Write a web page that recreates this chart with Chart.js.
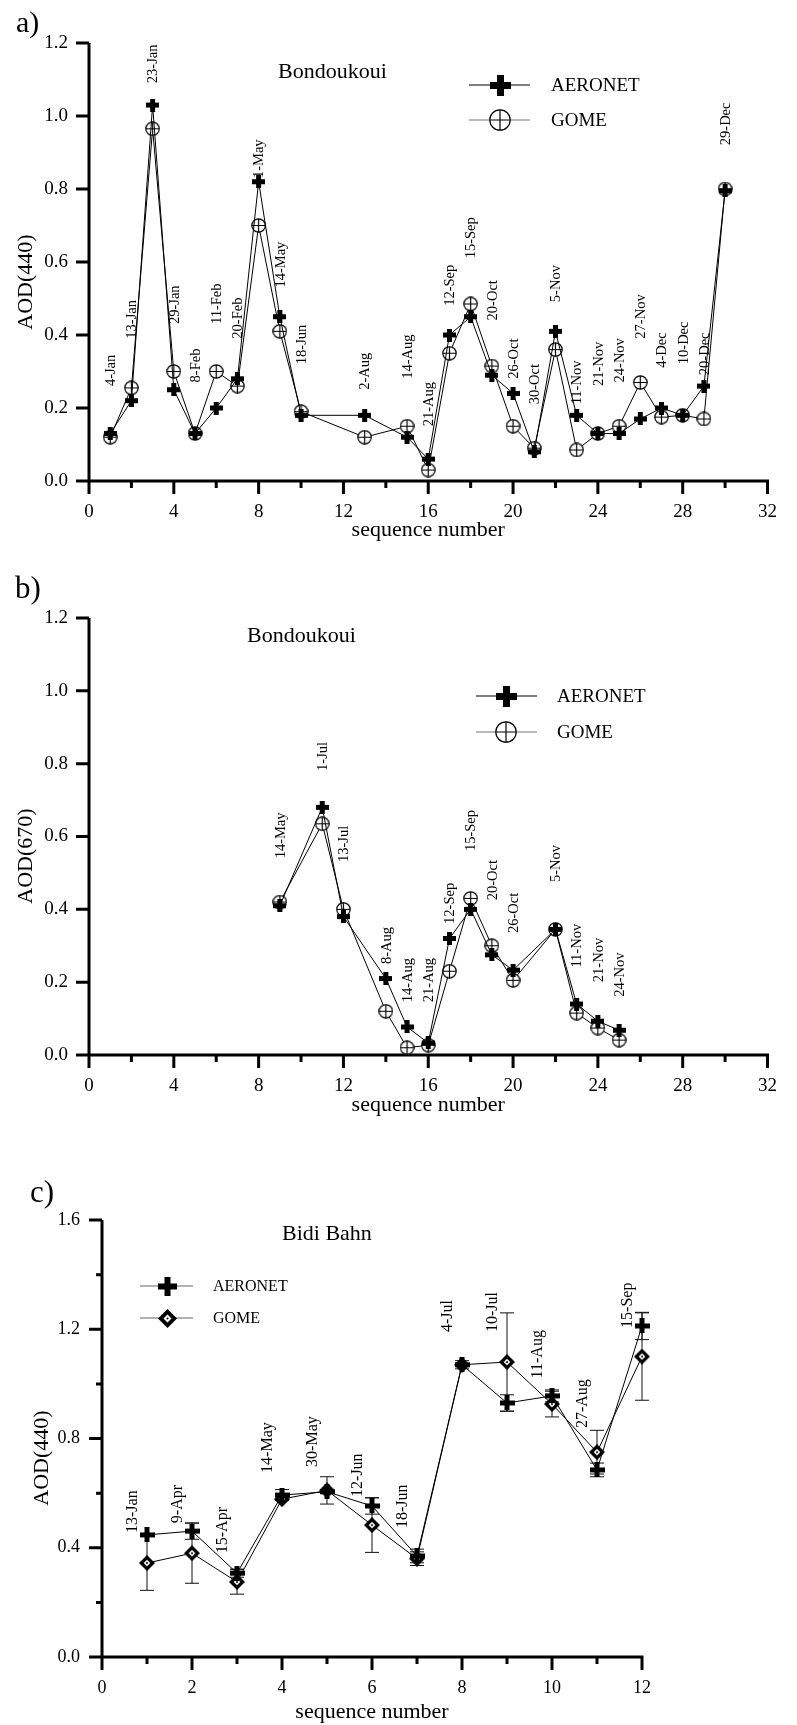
<!DOCTYPE html>
<html>
<head>
  <meta charset="utf-8" />
  <title>AOD AERONET vs GOME</title>
  <script src="https://cdn.jsdelivr.net/npm/chart.js@4"></script>
  <style>
    body {
      margin: 0;
      background: #ffffff;
      width: 797px;
      height: 1725px;
      position: relative;
      overflow: hidden;
    }
    canvas { position: absolute; left: 0; }
    #chart-a { top: 0; }
    #chart-b { top: 560px; }
    #chart-c { top: 1140px; }
  </style>
</head>
<body>
  <canvas id="chart-a" width="797" height="560"></canvas>
  <canvas id="chart-b" width="797" height="580"></canvas>
  <canvas id="chart-c" width="797" height="585"></canvas>
  <script>
    // a) Bondoukoui, AOD(440)
    const seqA = [1, 2, 3, 4, 5, 6, 7, 8, 9, 10, 13, 15, 16, 17, 18, 19, 20, 21, 22, 23, 24, 25, 26, 27, 28, 29, 30];
    const datesA = ['4-Jan', '13-Jan', '23-Jan', '29-Jan', '8-Feb', '11-Feb', '20-Feb', '1-May', '14-May', '18-Jun',
      '2-Aug', '14-Aug', '21-Aug', '12-Sep', '15-Sep', '20-Oct', '26-Oct', '30-Oct', '5-Nov', '11-Nov',
      '21-Nov', '24-Nov', '27-Nov', '4-Dec', '10-Dec', '20-Dec', '29-Dec'];
    const aeronetA = [0.13, 0.22, 1.03, 0.25, 0.13, 0.20, 0.28, 0.82, 0.45, 0.18, 0.18, 0.12, 0.06, 0.40, 0.45,
      0.29, 0.24, 0.08, 0.41, 0.18, 0.13, 0.13, 0.17, 0.20, 0.18, 0.26, 0.795];
    const gomeA = [0.12, 0.255, 0.965, 0.30, 0.13, 0.30, 0.26, 0.70, 0.41, 0.19, 0.12, 0.15, 0.03, 0.35, 0.485,
      0.315, 0.15, 0.09, 0.36, 0.085, 0.13, 0.15, 0.27, 0.175, 0.18, 0.17, 0.80];
    // AOD level where each date label starts
    const labelAtA = [0.26, 0.39, 1.09, 0.43, 0.27, 0.43, 0.39, 0.83, 0.53, 0.32, 0.25, 0.28, 0.15, 0.48, 0.61,
      0.44, 0.28, 0.21, 0.49, 0.21, 0.26, 0.27, 0.39, 0.31, 0.32, 0.29, 0.92];

    // b) Bondoukoui, AOD(670)
    const seqB = [9, 11, 12, 14, 15, 16, 17, 18, 19, 20, 22, 23, 24, 25];
    const datesB = ['14-May', '1-Jul', '13-Jul', '8-Aug', '14-Aug', '21-Aug', '12-Sep', '15-Sep', '20-Oct', '26-Oct',
      '5-Nov', '11-Nov', '21-Nov', '24-Nov'];
    const aeronetB = [0.41, 0.68, 0.38, 0.21, 0.077, 0.033, 0.32, 0.40, 0.275, 0.233, 0.345, 0.14, 0.093, 0.068];
    const gomeB = [0.42, 0.635, 0.40, 0.12, 0.02, 0.027, 0.23, 0.43, 0.30, 0.205, 0.345, 0.115, 0.074, 0.041];
    const labelAtB = [0.54, 0.78, 0.53, 0.25, 0.145, 0.145, 0.36, 0.56, 0.425, 0.335, 0.475, 0.24, 0.20, 0.16];

    // c) Bidi Bahn, AOD(440) with error bars
    const seqC = [1, 2, 3, 4, 5, 6, 7, 8, 9, 10, 11, 12];
    const datesC = ['13-Jan', '9-Apr', '15-Apr', '14-May', '30-May', '12-Jun', '18-Jun', '4-Jul', '10-Jul', '11-Aug',
      '27-Aug', '15-Sep'];
    const aeronetC = [0.447, 0.461, 0.307, 0.593, 0.605, 0.553, 0.37, 1.07, 0.93, 0.956, 0.685, 1.212];
    const gomeC = [0.344, 0.38, 0.275, 0.578, 0.61, 0.483, 0.36, 1.07, 1.08, 0.926, 0.75, 1.10];
    const aeronetErrC = [0, 0.03, 0.015, 0.02, 0, 0.03, 0.025, 0.015, 0.03, 0.022, 0.025, 0.05];
    const gomeErrC = [0.10, 0.11, 0.045, 0, 0.05, 0.10, 0.025, 0, 0.18, 0.047, 0.08, 0.16];
    const labelAtC = [0.454, 0.49, 0.38, 0.674, 0.696, 0.586, 0.472, 1.19, 1.19, 1.02, 0.838, 1.205];

    const serif = '"Liberation Serif", "Times New Roman", serif';
    Chart.defaults.font.family = serif;
    Chart.defaults.color = '#000';
    Chart.defaults.animation = false;

    // marker images used as point styles
    function crossMark(size, arm) {
      const c = document.createElement('canvas');
      c.width = c.height = size;
      const g = c.getContext('2d');
      const m = (size - arm) / 2;
      g.fillStyle = '#000';
      g.fillRect(m, 0, arm, size);
      g.fillRect(0, m, size, arm);
      return c;
    }
    function ringMark(size) {
      const c = document.createElement('canvas');
      c.width = c.height = size;
      const g = c.getContext('2d');
      const h = size / 2, r = h - 0.8;
      g.fillStyle = '#fff';
      g.beginPath(); g.arc(h, h, r, 0, Math.PI * 2); g.fill();
      g.strokeStyle = '#000'; g.lineWidth = 1.2;
      g.stroke();
      g.beginPath();
      g.moveTo(h, h - r); g.lineTo(h, h + r);
      g.moveTo(h - r, h); g.lineTo(h + r, h);
      g.stroke();
      return c;
    }
    function diamondMark(size) {
      const c = document.createElement('canvas');
      c.width = c.height = size;
      const g = c.getContext('2d');
      const h = size / 2, k = h * 0.42;
      g.fillStyle = '#000';
      g.beginPath(); g.moveTo(h, 0); g.lineTo(size, h); g.lineTo(h, size); g.lineTo(0, h); g.closePath(); g.fill();
      g.fillStyle = '#fff';
      g.beginPath(); g.moveTo(h, h - k); g.lineTo(h + k, h); g.lineTo(h, h + k); g.lineTo(h - k, h); g.closePath(); g.fill();
      g.fillStyle = '#000';
      g.beginPath(); g.arc(h, h, 1, 0, Math.PI * 2); g.fill();
      return c;
    }

    function pts(xs, ys) { return xs.map((x, i) => ({ x: x, y: ys[i] })); }

    function series(label, xs, ys, marker, extra) {
      return Object.assign({
        label: label,
        data: pts(xs, ys),
        borderColor: '#000',
        borderWidth: 1,
        pointStyle: marker,
        pointRadius: 7,
        pointHoverRadius: 7,
        fill: false,
        tension: 0,
        clip: false
      }, extra || {});
    }

    // axes, ticks, error bars, date labels, legend and titles
    const decor = {
      id: 'decor',
      beforeDatasetsDraw(chart, args, o) {
        const { ctx, chartArea: a, scales: { x, y } } = chart;
        ctx.save();
        ctx.strokeStyle = '#000';
        ctx.lineWidth = 3;
        ctx.beginPath();
        ctx.moveTo(a.left, a.top); ctx.lineTo(a.left, a.bottom);
        ctx.moveTo(a.left - 1.5, a.bottom); ctx.lineTo(a.right + 1.5, a.bottom);
        y.ticks.forEach((t, i) => {
          const py = y.getPixelForTick(i);
          ctx.moveTo(a.left, py); ctx.lineTo(a.left - (t.label === '' ? 6 : 13), py);
        });
        x.ticks.forEach((t, i) => {
          const px = x.getPixelForTick(i);
          ctx.moveTo(px, a.bottom); ctx.lineTo(px, a.bottom + (t.label === '' ? 7 : 13));
        });
        ctx.stroke();

        ctx.lineWidth = 1;
        ctx.strokeStyle = '#111';
        chart.data.datasets.forEach(ds => {
          if (!ds.errorBars) return;
          ds.data.forEach((p, i) => {
            const e = ds.errorBars[i];
            if (!e) return;
            const px = x.getPixelForValue(p.x);
            const top = y.getPixelForValue(p.y + e), bot = y.getPixelForValue(p.y - e);
            ctx.beginPath();
            ctx.moveTo(px, top); ctx.lineTo(px, bot);
            ctx.moveTo(px - 7, top); ctx.lineTo(px + 7, top);
            ctx.moveTo(px - 7, bot); ctx.lineTo(px + 7, bot);
            ctx.stroke();
          });
        });
        ctx.restore();
      },
      afterDatasetsDraw(chart, args, o) {
        const { ctx, scales: { x, y } } = chart;
        ctx.save();
        ctx.fillStyle = '#000';

        // rotated date labels
        const d = o.dates;
        ctx.font = d.size + 'px ' + serif;
        ctx.textAlign = 'left';
        ctx.textBaseline = 'middle';
        d.seq.forEach((s, i) => {
          ctx.save();
          ctx.translate(x.getPixelForValue(s) + d.dx, y.getPixelForValue(d.at[i]));
          ctx.rotate(-Math.PI / 2);
          ctx.fillText(d.text[i], 0, 0);
          ctx.restore();
        });

        // legend
        const L = o.legend;
        chart.data.datasets.forEach((ds, i) => {
          const ly = L.y[i];
          ctx.strokeStyle = L.lineColor[i];
          ctx.lineWidth = 1.2;
          ctx.beginPath(); ctx.moveTo(L.x0, ly); ctx.lineTo(L.x1, ly); ctx.stroke();
          const m = L.marker[i];
          ctx.drawImage(m, Math.round(L.xm - m.width / 2), Math.round(ly - m.height / 2));
          ctx.font = L.size + 'px ' + serif;
          ctx.textAlign = 'left';
          ctx.textBaseline = 'middle';
          ctx.fillText(ds.label, L.xt, ly + 1);
        });

        // site name and panel letter
        ctx.font = '22px ' + serif;
        ctx.textBaseline = 'middle';
        ctx.fillText(o.site.text, o.site.x, o.site.y);
        ctx.font = o.letter.size + 'px ' + serif;
        ctx.textBaseline = 'alphabetic';
        ctx.fillText(o.letter.text, o.letter.x, o.letter.y);

        // y axis title
        ctx.save();
        ctx.font = '22px ' + serif;
        ctx.textAlign = 'center';
        ctx.textBaseline = 'middle';
        ctx.translate(o.yTitle.x, o.yTitle.y);
        ctx.rotate(-Math.PI / 2);
        ctx.fillText(o.yTitle.text, 0, 0);
        ctx.restore();

        ctx.restore();
      }
    };

    function panel(id, p) {
      return new Chart(document.getElementById(id), {
        type: 'line',
        data: { datasets: p.datasets },
        options: {
          responsive: false,
          events: [],
          layout: { padding: p.padding },
          plugins: {
            legend: { display: false },
            tooltip: { enabled: false },
            decor: p.decor
          },
          scales: {
            x: {
              type: 'linear',
              min: 0,
              max: p.xMax,
              grid: { display: false, drawTicks: false },
              border: { display: false },
              ticks: {
                stepSize: p.xStep,
                autoSkip: false,
                maxRotation: 0,
                padding: p.xTickPad,
                font: { size: p.tickSize },
                callback: v => (v % p.xLabelEvery === 0 ? String(v) : '')
              },
              title: {
                display: true,
                text: 'sequence number',
                font: { size: 22 },
                padding: { top: 0, bottom: p.xTitlePad }
              },
              afterFit: s => { s.height = p.xHeight; }
            },
            y: {
              min: 0,
              max: p.yMax,
              grid: { display: false, drawTicks: false },
              border: { display: false },
              ticks: {
                stepSize: 0.2,
                autoSkip: false,
                padding: p.yTickPad,
                font: { size: p.tickSize },
                callback: v => {
                  const tenth = Math.round(v * 10);
                  return tenth % p.yLabelEvery === 0 ? (tenth / 10).toFixed(1) : '';
                }
              },
              afterFit: s => { s.width = p.yWidth; }
            }
          }
        },
        plugins: [decor]
      });
    }

    const crossSmall = crossMark(13, 5);
    const crossBig = crossMark(21, 7);
    const ringSmall = ringMark(15);
    const ringBig = ringMark(22);
    const crossC = crossMark(15, 5);
    const crossCBig = crossMark(19, 6);
    const diamondSmall = diamondMark(16);
    const diamondBig = diamondMark(19);

    panel('chart-a', {
      datasets: [
        series('AERONET', seqA, aeronetA, crossSmall),
        series('GOME', seqA, gomeA, ringSmall)
      ],
      padding: { top: 43, right: 10, left: 0, bottom: 0 },
      xMax: 32, xStep: 2, xLabelEvery: 4, yMax: 1.2, yLabelEvery: 2,
      tickSize: 19, xTickPad: 20, yTickPad: 21, xTitlePad: 17, xHeight: 79, yWidth: 89,
      decor: {
        dates: { seq: seqA, text: datesA, at: labelAtA, dx: 1, size: 14.5 },
        legend: { x0: 469, x1: 530, xm: 500, xt: 551, y: [85, 120], size: 19,
          lineColor: ['#000', '#777'], marker: [crossBig, ringBig] },
        site: { text: 'Bondoukoui', x: 278, y: 72 },
        letter: { text: 'a)', x: 16, y: 32, size: 30 },
        yTitle: { text: 'AOD(440)', x: 26, y: 282 }
      }
    });

    panel('chart-b', {
      datasets: [
        series('AERONET', seqB, aeronetB, crossSmall),
        series('GOME', seqB, gomeB, ringSmall)
      ],
      padding: { top: 58, right: 10, left: 0, bottom: 0 },
      xMax: 32, xStep: 2, xLabelEvery: 4, yMax: 1.2, yLabelEvery: 2,
      tickSize: 19, xTickPad: 20, yTickPad: 21, xTitlePad: 22, xHeight: 85, yWidth: 89,
      decor: {
        dates: { seq: seqB, text: datesB, at: labelAtB, dx: 1, size: 14.5 },
        legend: { x0: 476, x1: 537, xm: 506, xt: 557, y: [136, 172], size: 19,
          lineColor: ['#000', '#777'], marker: [crossBig, ringBig] },
        site: { text: 'Bondoukoui', x: 247, y: 76 },
        letter: { text: 'b)', x: 15, y: 38, size: 31 },
        yTitle: { text: 'AOD(670)', x: 26, y: 296 }
      }
    });

    panel('chart-c', {
      datasets: [
        series('AERONET', seqC, aeronetC, crossC, { errorBars: aeronetErrC }),
        series('GOME', seqC, gomeC, diamondSmall, { errorBars: gomeErrC })
      ],
      padding: { top: 80, right: 155, left: 0, bottom: 0 },
      xMax: 12, xStep: 1, xLabelEvery: 2, yMax: 1.6, yLabelEvery: 4,
      tickSize: 18, xTickPad: 20, yTickPad: 22, xTitlePad: 0, xHeight: 68, yWidth: 102,
      decor: {
        dates: { seq: seqC, text: datesC, at: labelAtC, dx: -14.5, size: 16 },
        legend: { x0: 140, x1: 193, xm: 167, xt: 213, y: [146, 178], size: 16,
          lineColor: ['#666', '#666'], marker: [crossCBig, diamondBig] },
        site: { text: 'Bidi Bahn', x: 282, y: 94 },
        letter: { text: 'c)', x: 30, y: 62, size: 31 },
        yTitle: { text: 'AOD(440)', x: 42, y: 318 }
      }
    });
  </script>
</body>
</html>
